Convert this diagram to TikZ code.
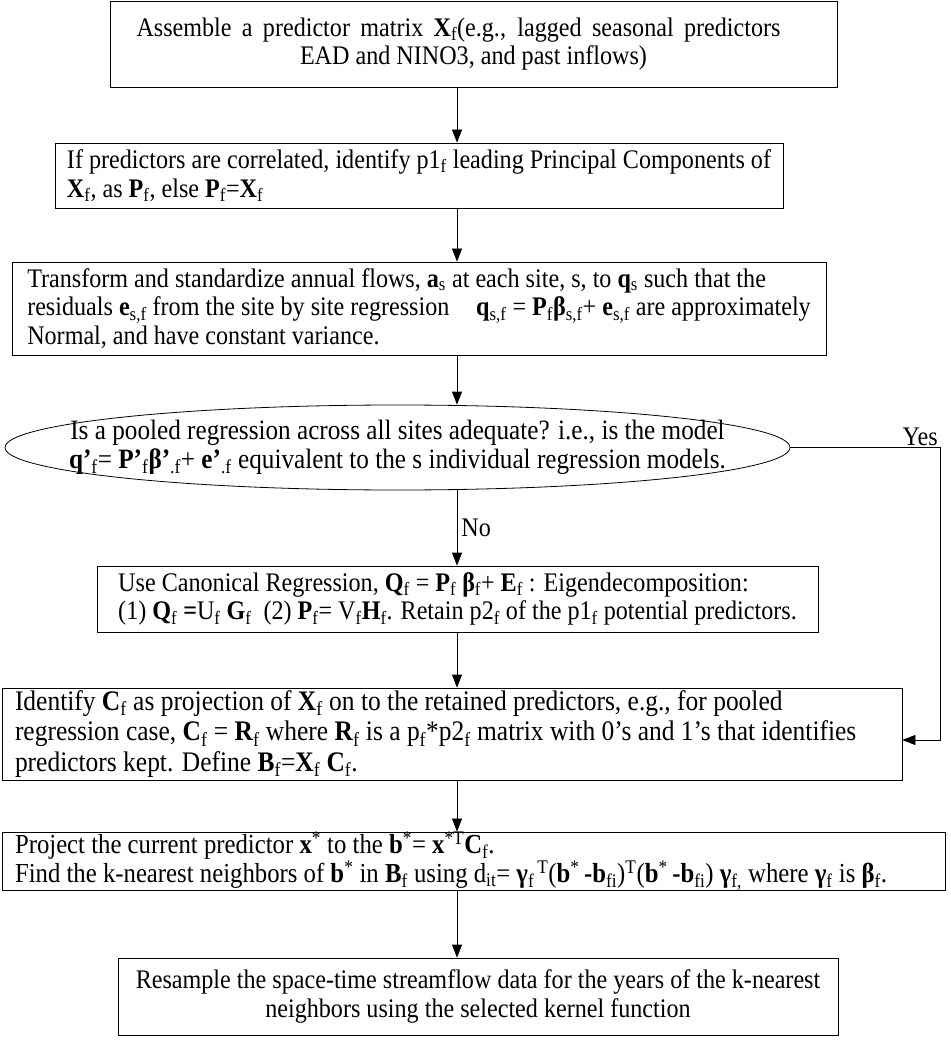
\documentclass[tikz,border=0pt]{standalone}
\usepackage{fontspec}
\setmainfont{Liberation Serif}[FakeStretch=0.9]
\usetikzlibrary{arrows.meta,shapes.geometric}
\newcommand{\lo}[1]{\textsubscript{#1}}
\newcommand{\hi}[1]{\textsuperscript{#1}}
\begin{document}
\begin{tikzpicture}[x=1pt,y=-1pt]
\tikzstyle{every node}+=[font=\fontsize{26.8}{28.8}\selectfont]
\tikzstyle{stepbox}=[draw,rectangle,line width=0.8pt,inner sep=0pt,align=left]
\tikzstyle{widebox}=[stepbox,inner xsep=13pt,align=flush left]
\tikzstyle{flow}=[draw,line width=0.8pt,-{Triangle[length=13pt,width=10pt]}]
\useasboundingbox (0,0) rectangle (950,1040);
\coordinate (spine) at (457,0);
\node [stepbox,align=center,minimum width=727,minimum height=86] (assemble) at (473.5,44) {\makebox[644pt][s]{Assemble a predictor matrix \textbf{X}\lo{f}(e.g., lagged seasonal predictors}\hspace*{30pt}\\EAD and NINO3, and past inflows)};
\node [stepbox,minimum width=728,minimum height=65] (pca) at (419,175.5) {If predictors are correlated, identify p1\lo{f} leading Principal Components of\\\textbf{X}\lo{f}, as \textbf{P}\lo{f}, else \textbf{P}\lo{f}=\textbf{X}\lo{f}};
\node [stepbox,minimum width=814,minimum height=93] (transform) at (419,308.5) {Transform and standardize annual flows, \textbf{a}\lo{s} at each site, s, to \textbf{q}\lo{s} such that the\\residuals \textbf{e}\lo{s,f} from the site by site regression\quad \textbf{q}\lo{s,f} = \textbf{P}\lo{f}\textbf{β}\lo{s,f}+ \textbf{e}\lo{s,f} are approximately\\Normal, and have constant variance.};
\node [draw,ellipse,line width=0.8pt,inner xsep=-120pt,inner ysep=0pt,minimum width=785,minimum height=85,align=center,font=\fontsize{28}{28.8}\selectfont] (pooled) at (397.5,447.5) {Is a pooled regression across all sites adequate? i.e., is the model\\\textbf{q’}\lo{f}= \textbf{P’}\lo{f}\textbf{β’}\lo{.f}+ \textbf{e’}\lo{.f} equivalent to the s individual regression models.};
\node [stepbox,minimum width=721,minimum height=66] (canonical) at (457.5,599) {Use Canonical Regression, \textbf{Q}\lo{f} = \textbf{P}\lo{f} \textbf{β}\lo{f}+ \textbf{E}\lo{f} : Eigendecomposition:\\(1) \textbf{Q}\lo{f} \textbf{=}U\lo{f} \textbf{G}\lo{f}\ \ (2) \textbf{P}\lo{f}= V\lo{f}\textbf{H}\lo{f}. Retain p2\lo{f} of the p1\lo{f} potential predictors.};
\node [widebox,text width=874,minimum height=92,font=\fontsize{28.3}{30.5}\selectfont] (identify) at (452,734) {Identify \textbf{C}\lo{f} as projection of \textbf{X}\lo{f} on to the retained predictors, e.g., for pooled\\regression case, \textbf{C}\lo{f} = \textbf{R}\lo{f} where \textbf{R}\lo{f} is a p\lo{f}*p2\lo{f} matrix with 0’s and 1’s that identifies\\predictors kept. Define \textbf{B}\lo{f}=\textbf{X}\lo{f} \textbf{C}\lo{f}.};
\node [widebox,text width=917,minimum height=50,font=\fontsize{27.5}{27}\selectfont] (project) at (473.5,861) {Project the current predictor \textbf{x}\hi{*} to the \textbf{b}\hi{*}= \textbf{x}\hi{*T}\textbf{C}\lo{f}.\\Find the k-nearest neighbors of \textbf{b}\hi{*} in \textbf{B}\lo{f} using d\lo{it}= \textbf{γ}\lo{f}\hspace{3pt}\hi{T}(\textbf{b}\hi{*}\,\textbf{-}\textbf{b}\lo{fi})\hi{T}(\textbf{b}\hi{*}\,\textbf{-}\textbf{b}\lo{fi}) \textbf{γ}\lo{f,} where \textbf{γ}\lo{f} is \textbf{β}\lo{f}.};
\node [stepbox,align=center,minimum width=720,minimum height=77] (resample) at (478,996.5) {Resample the space-time streamflow data for the years of the k-nearest\\neighbors using the selected kernel function};
\draw [flow] (assemble.south -| spine) -- (pca.north -| spine);
\draw [flow] (pca.south -| spine) -- (transform.north -| spine);
\draw [flow] (transform.south -| spine) -- (pooled.north -| spine);
\draw [flow] (pooled.south -| spine) -- node [right,inner sep=4pt] {No} (canonical.north -| spine);
\draw [flow] (canonical.south -| spine) -- (identify.north -| spine);
\draw [flow] (identify.south -| spine) -- (project.north -| spine);
\draw [flow] (project.south -| spine) -- (resample.north -| spine);
\coordinate (yesturn) at (940,447.5);
\draw [flow] (pooled.east) -- (yesturn) |- ([yshift=-6pt]identify.east);
\node [anchor=south east,inner sep=2pt] (yes) at (yesturn) {Yes};
\end{tikzpicture}
\end{document}
